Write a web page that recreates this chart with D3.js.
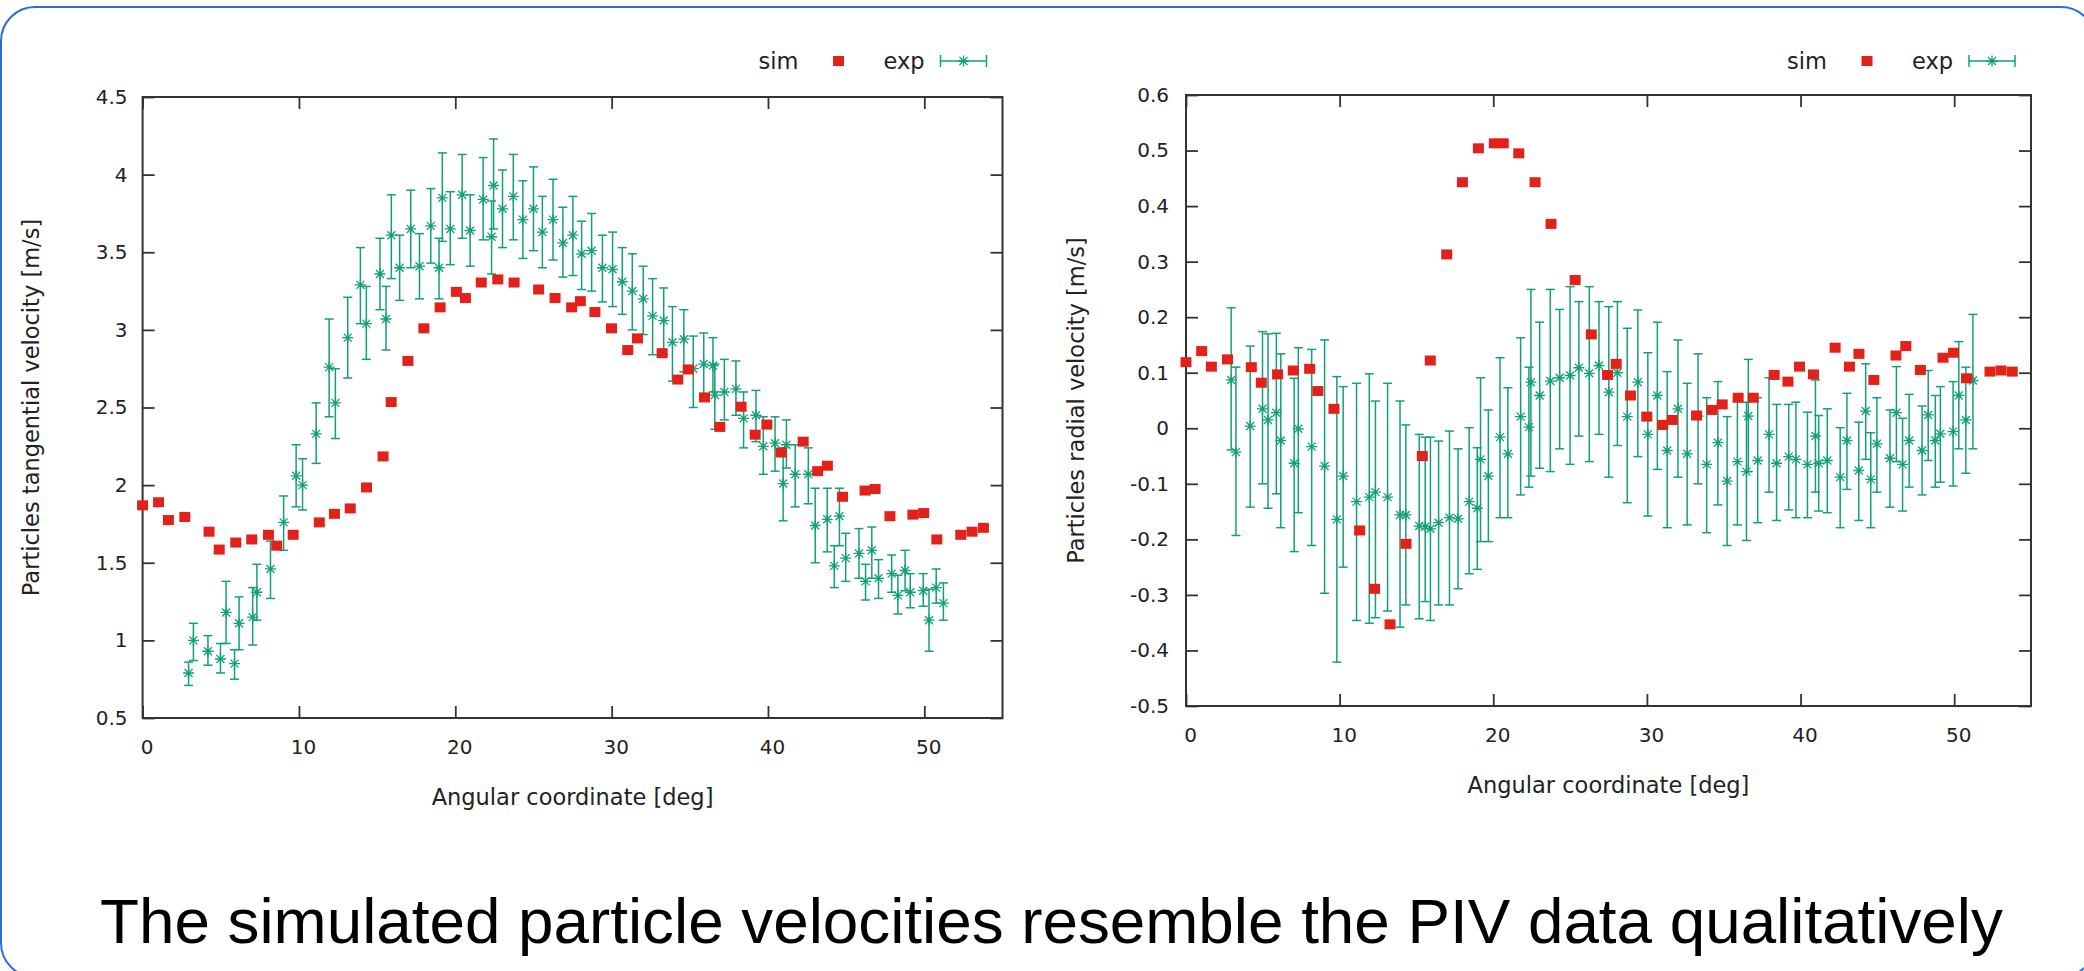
<!DOCTYPE html>
<html><head><meta charset="utf-8">
<script src="https://cdn.jsdelivr.net/npm/d3@7"></script>
<style>html,body{margin:0;padding:0;background:#fff;overflow:hidden}svg{display:block}</style>
</head><body>
<svg id="c" width="2084" height="971"></svg>
<script>
// ---------- data ----------
const xTickVals = [0, 10, 20, 30, 40, 50];
const xTickLabels = ["0", "10", "20", "30", "40", "50"];
const tangTickVals = [0.5, 1, 1.5, 2, 2.5, 3, 3.5, 4, 4.5];
const tangTickLabels = ["0.5", "1", "1.5", "2", "2.5", "3", "3.5", "4", "4.5"];
const radTickVals = [-0.5, -0.4, -0.3, -0.2, -0.1, 0, 0.1, 0.2, 0.3, 0.4, 0.5, 0.6];
const radTickLabels = ["-0.5", "-0.4", "-0.3", "-0.2", "-0.1", "0", "0.1", "0.2", "0.3", "0.4", "0.5", "0.6"];
const seriesNames = ["sim", "exp"];

// simulation sample angles (deg)
const simAngle = [0, 1.02, 1.65, 2.7, 4.25, 4.9, 5.96, 6.98, 8.05, 8.58,
  9.63, 11.3, 12.27, 13.28, 14.32, 15.38, 15.9, 16.97, 17.99, 19.03,
  20.07, 20.65, 21.66, 22.72, 23.76, 25.33, 26.38, 27.44, 28.0, 28.93,
  29.99, 31.03, 31.65, 33.23, 34.23, 34.9, 35.94, 36.92, 38.28, 39.18,
  39.93, 40.84, 42.25, 43.18, 43.8, 44.77, 46.21, 46.85, 47.8, 49.27,
  49.96, 50.8, 52.33, 53.05, 53.78];
const simTang = [1.87, 1.89, 1.775, 1.795, 1.70, 1.585, 1.63, 1.65, 1.68, 1.61,
  1.68, 1.76, 1.815, 1.85, 1.985, 2.185, 2.535, 2.80, 3.01, 3.145,
  3.245, 3.205, 3.305, 3.325, 3.305, 3.26, 3.205, 3.145, 3.185, 3.115,
  3.01, 2.87, 2.945, 2.85, 2.68, 2.745, 2.565, 2.375, 2.505, 2.325,
  2.39, 2.21, 2.28, 2.09, 2.125, 1.925, 1.965, 1.975, 1.80, 1.81,
  1.82, 1.65, 1.68, 1.70, 1.725];
const simRad = [0.119, 0.139, 0.111, 0.124, 0.110, 0.082, 0.097, 0.104, 0.107, 0.067,
  0.035, -0.184, -0.289, -0.353, -0.208, -0.050, 0.122, 0.313, 0.443, 0.504,
  0.513, 0.513, 0.495, 0.443, 0.368, 0.267, 0.169, 0.096, 0.116, 0.059,
  0.021, 0.006, 0.015, 0.023, 0.033, 0.043, 0.055, 0.055, 0.096, 0.084,
  0.111, 0.097, 0.145, 0.111, 0.134, 0.087, 0.131, 0.148, 0.105, 0.127,
  0.136, 0.090, 0.102, 0.104, 0.102];

// experiment (PIV) sample angles (deg)
const expAngle = [2.94, 3.25, 4.18, 4.98, 5.34, 5.88, 6.17, 7.04, 7.31, 8.18,
  9.02, 9.82, 10.23, 11.1, 11.93, 12.33, 13.12, 13.93, 14.31, 15.18,
  15.57, 15.91, 16.44, 17.15, 17.71, 18.43, 18.96, 19.17, 19.68, 20.44,
  20.95, 21.78, 22.32, 22.45, 23.02, 23.71, 24.32, 25.0, 25.57, 26.25,
  26.88, 27.52, 28.08, 28.72, 29.41, 30.06, 30.68, 31.32, 32.02, 32.62,
  33.33, 33.89, 34.62, 35.22, 35.89, 36.48, 36.6, 37.21, 37.95, 38.44,
  39.23, 39.7, 40.45, 40.97, 41.18, 41.74, 42.58, 43.02, 43.79, 44.24,
  44.57, 44.97, 45.82, 46.24, 46.64, 47.07, 47.91, 48.31, 48.77, 49.1,
  49.93, 50.3, 50.76, 51.22];
const expTang = [0.79, 1.00, 0.93, 0.88, 1.18, 0.85, 1.11, 1.15, 1.31, 1.46,
  1.76, 2.06, 2.00, 2.33, 2.76, 2.53, 2.95, 3.29, 3.04, 3.36,
  3.07, 3.61, 3.40, 3.65, 3.41, 3.67, 3.40, 3.85, 3.65, 3.87,
  3.64, 3.84, 3.60, 3.93, 3.78, 3.86, 3.71, 3.78, 3.63, 3.71,
  3.56, 3.61, 3.49, 3.51, 3.40, 3.39, 3.31, 3.25, 3.20, 3.09,
  3.06, 2.92, 2.94, 2.75, 2.78, 2.77, 2.58, 2.60, 2.62, 2.43,
  2.45, 2.25, 2.27, 2.01, 2.26, 2.07, 2.07, 1.74, 1.78, 1.48,
  1.80, 1.53, 1.56, 1.38, 1.58, 1.40, 1.43, 1.29, 1.45, 1.31,
  1.32, 1.13, 1.34, 1.24];
const expTangLo = [0.71, 0.87, 0.84, 0.79, 0.98, 0.75, 0.94, 0.97, 1.13, 1.27,
  1.58, 1.86, 1.84, 2.14, 2.44, 2.30, 2.69, 3.04, 2.81, 3.13,
  2.87, 3.33, 3.19, 3.40, 3.20, 3.43, 3.20, 3.57, 3.42, 3.59,
  3.41, 3.58, 3.36, 3.65, 3.53, 3.58, 3.46, 3.51, 3.40, 3.45,
  3.34, 3.35, 3.26, 3.25, 3.18, 3.15, 3.10, 3.00, 2.97, 2.84,
  2.84, 2.67, 2.73, 2.50, 2.57, 2.60, 2.36, 2.42, 2.45, 2.24,
  2.28, 2.07, 2.09, 1.77, 2.11, 1.86, 1.88, 1.50, 1.57, 1.34,
  1.61, 1.38, 1.40, 1.26, 1.40, 1.27, 1.31, 1.17, 1.32, 1.21,
  1.22, 0.93, 1.24, 1.13];
const expTangHi = [0.86, 1.11, 1.03, 0.98, 1.38, 0.94, 1.28, 1.34, 1.49, 1.64,
  1.93, 2.26, 2.17, 2.53, 3.07, 2.75, 3.21, 3.53, 3.28, 3.59,
  3.28, 3.87, 3.61, 3.90, 3.62, 3.91, 3.59, 4.14, 3.89, 4.13,
  3.87, 4.11, 3.83, 4.23, 4.03, 4.13, 3.96, 4.05, 3.86, 3.97,
  3.79, 3.86, 3.70, 3.75, 3.61, 3.63, 3.53, 3.49, 3.41, 3.33,
  3.27, 3.15, 3.13, 2.96, 2.98, 2.95, 2.78, 2.81, 2.80, 2.60,
  2.61, 2.44, 2.44, 2.24, 2.42, 2.26, 2.24, 1.98, 1.98, 1.61,
  1.98, 1.69, 1.72, 1.49, 1.73, 1.52, 1.55, 1.42, 1.58, 1.43,
  1.43, 1.33, 1.46, 1.37];
const expRad = [0.087, -0.043, 0.004, 0.035, 0.015, 0.028, -0.022, -0.063, -0.001, -0.033,
  -0.068, -0.164, -0.086, -0.132, -0.124, -0.115, -0.124, -0.156, -0.156, -0.176,
  -0.177, -0.181, -0.170, -0.161, -0.163, -0.132, -0.144, -0.056, -0.086, -0.016,
  -0.046, 0.021, 0.002, 0.083, 0.059, 0.085, 0.091, 0.095, 0.109, 0.099,
  0.113, 0.065, 0.100, 0.021, 0.083, -0.011, 0.059, -0.040, 0.035, -0.046,
  0.022, -0.065, -0.026, -0.095, -0.060, -0.078, 0.022, -0.058, -0.011, -0.063,
  -0.051, -0.056, -0.065, -0.014, -0.063, -0.058, -0.088, -0.022, -0.076, 0.031,
  -0.092, -0.028, -0.054, 0.028, -0.065, -0.022, -0.040, 0.024, -0.022, -0.010,
  -0.006, 0.059, 0.015, 0.086];
const expRadLo = [-0.039, -0.193, -0.142, -0.100, -0.144, -0.118, -0.179, -0.222, -0.152, -0.211,
  -0.297, -0.421, -0.250, -0.346, -0.351, -0.341, -0.329, -0.358, -0.318, -0.343,
  -0.312, -0.346, -0.318, -0.318, -0.289, -0.262, -0.254, -0.204, -0.204, -0.161,
  -0.161, -0.120, -0.106, -0.086, -0.072, -0.078, -0.037, -0.065, -0.014, -0.060,
  -0.011, -0.088, -0.031, -0.134, -0.051, -0.158, -0.074, -0.179, -0.088, -0.174,
  -0.100, -0.188, -0.138, -0.211, -0.174, -0.202, -0.078, -0.170, -0.115, -0.166,
  -0.147, -0.161, -0.161, -0.115, -0.149, -0.152, -0.179, -0.110, -0.166, -0.056,
  -0.179, -0.115, -0.142, -0.060, -0.149, -0.106, -0.120, -0.058, -0.106, -0.097,
  -0.104, -0.037, -0.081, -0.037];
const expRadHi = [0.217, 0.110, 0.148, 0.174, 0.170, 0.171, 0.134, 0.090, 0.145, 0.142,
  0.159, 0.093, 0.075, 0.081, 0.098, 0.049, 0.081, 0.049, 0.006, -0.011,
  -0.016, -0.016, -0.023, -0.005, -0.037, 0.001, -0.035, 0.091, 0.033, 0.127,
  0.073, 0.163, 0.110, 0.250, 0.191, 0.250, 0.214, 0.255, 0.228, 0.255,
  0.228, 0.219, 0.228, 0.180, 0.213, 0.136, 0.191, 0.102, 0.159, 0.081,
  0.134, 0.055, 0.084, 0.021, 0.056, 0.047, 0.124, 0.055, 0.091, 0.043,
  0.043, 0.047, 0.029, 0.087, 0.023, 0.035, 0.001, 0.063, 0.011, 0.116,
  -0.008, 0.055, 0.033, 0.111, 0.018, 0.061, 0.040, 0.104, 0.059, 0.075,
  0.084, 0.156, 0.110, 0.205];

const captionText = "The simulated particle velocities resemble the PIV data qualitatively";

// ---------- styles ----------
const RED = "#e3211b", GREEN = "#12a077", AXIS = "#333", TXT = "#222";
const CHART_FONT = "'DejaVu Sans', sans-serif";

const svg = d3.select("#c");
svg.append("rect").attr("width", 2084).attr("height", 971).attr("fill", "#fff");
svg.append("rect").attr("x", 1).attr("y", 7).attr("width", 2094).attr("height", 970)
  .attr("rx", 34).attr("ry", 34).attr("fill", "none").attr("stroke", "#2f6bd6").attr("stroke-width", 2);

const starPath = "M-5.5,0H5.5M0,-5.5V5.5M-4,-4L4,4M-4,4L4,-4";

function drawPanel(cfg) {
  const x = d3.scaleLinear().domain([0, 55]).range([cfg.x0, cfg.x1]);
  const y = d3.scaleLinear().domain(cfg.yDomain).range([cfg.y0, cfg.y1]);
  const g = svg.append("g");

  const styleAxis = sel => {
    sel.select(".domain").remove();
    sel.selectAll(".tick line").attr("stroke", AXIS).attr("stroke-width", 1.8);
    sel.selectAll(".tick text").attr("fill", TXT).style("font-family", CHART_FONT).style("font-size", "20px");
  };
  g.append("g").attr("transform", `translate(0,${cfg.y0})`)
    .call(d3.axisBottom(x).tickValues(xTickVals).tickFormat((d, i) => xTickLabels[i]).tickSizeInner(-12).tickSizeOuter(0).tickPadding(22))
    .call(styleAxis).call(s => s.selectAll(".tick text").attr("dx", 4));
  g.append("g").attr("transform", `translate(0,${cfg.y1})`)
    .call(d3.axisTop(x).tickValues(xTickVals).tickFormat("").tickSizeInner(-12).tickSizeOuter(0))
    .call(styleAxis);
  g.append("g").attr("transform", `translate(${cfg.x0},0)`)
    .call(d3.axisLeft(y).tickValues(cfg.tickVals).tickFormat((d, i) => cfg.tickLabels[i]).tickSizeInner(-12).tickSizeOuter(0).tickPadding(cfg.yPad))
    .call(styleAxis);
  g.append("g").attr("transform", `translate(${cfg.x1},0)`)
    .call(d3.axisRight(y).tickValues(cfg.tickVals).tickFormat("").tickSizeInner(-12).tickSizeOuter(0))
    .call(styleAxis);

  g.append("rect").attr("x", cfg.x0).attr("y", cfg.y1)
    .attr("width", cfg.x1 - cfg.x0).attr("height", cfg.y0 - cfg.y1)
    .attr("fill", "none").attr("stroke", AXIS).attr("stroke-width", 2);

  g.append("text").attr("x", (cfg.x0 + cfg.x1) / 2).attr("y", cfg.xLabelY)
    .attr("text-anchor", "middle").attr("dominant-baseline", "central")
    .style("font-family", CHART_FONT).style("font-size", "22.5px").attr("fill", TXT)
    .text("Angular coordinate [deg]");
  g.append("text").attr("transform", `translate(${cfg.yLabelX},${(cfg.y0 + cfg.y1) / 2}) rotate(-90)`)
    .attr("text-anchor", "middle").attr("dominant-baseline", "central")
    .style("font-family", CHART_FONT).style("font-size", "22.5px").attr("fill", TXT)
    .text(cfg.yLabel);

  const eg = g.append("g").attr("stroke", GREEN).attr("fill", "none").attr("stroke-width", 1.5);
  const cap = 4.5;
  expAngle.forEach((a, i) => {
    const cx = x(a), ylo = y(cfg.expLo[i]), yhi = y(cfg.expHi[i]);
    eg.append("line").attr("x1", cx).attr("x2", cx).attr("y1", ylo).attr("y2", yhi);
    eg.append("line").attr("x1", cx - cap).attr("x2", cx + cap).attr("y1", ylo).attr("y2", ylo);
    eg.append("line").attr("x1", cx - cap).attr("x2", cx + cap).attr("y1", yhi).attr("y2", yhi);
    eg.append("path").attr("d", starPath).attr("transform", `translate(${cx},${y(cfg.expVal[i])})`).attr("stroke-width", 1.3);
  });

  g.append("g").selectAll("rect").data(simAngle).join("rect")
    .attr("x", d => x(d) - 5.5).attr("y", (d, i) => y(cfg.simVal[i]) - 5)
    .attr("width", 11).attr("height", 10).attr("fill", RED);

  const ly = 61;
  const lg = g.append("g").style("font-family", CHART_FONT).style("font-size", "22.5px").attr("fill", TXT);
  lg.append("text").attr("x", cfg.x1 - 204).attr("y", ly).attr("text-anchor", "end").attr("dominant-baseline", "central").text(seriesNames[0]);
  lg.append("rect").attr("x", cfg.x1 - 164 - 5.5).attr("y", ly - 5).attr("width", 11).attr("height", 10).attr("fill", RED);
  lg.append("text").attr("x", cfg.x1 - 78).attr("y", ly).attr("text-anchor", "end").attr("dominant-baseline", "central").text(seriesNames[1]);
  const sx0 = cfg.x1 - 62, sx1 = cfg.x1 - 16;
  const sg = lg.append("g").attr("stroke", GREEN).attr("stroke-width", 1.5).attr("fill", "none");
  sg.append("line").attr("x1", sx0).attr("x2", sx1).attr("y1", ly).attr("y2", ly);
  sg.append("line").attr("x1", sx0).attr("x2", sx0).attr("y1", ly - 6).attr("y2", ly + 6);
  sg.append("line").attr("x1", sx1).attr("x2", sx1).attr("y1", ly - 6).attr("y2", ly + 6);
  sg.append("path").attr("d", starPath).attr("transform", `translate(${(sx0 + sx1) / 2},${ly})`).attr("stroke-width", 1.3);
}

drawPanel({
  x0: 142.6, x1: 1002.5, y0: 718, y1: 97,
  yDomain: [0.5, 4.5], tickVals: tangTickVals, tickLabels: tangTickLabels, yPad: 15,
  yLabel: "Particles tangential velocity [m/s]", yLabelX: 31, xLabelY: 797,
  simVal: simTang, expVal: expTang, expLo: expTangLo, expHi: expTangHi
});
drawPanel({
  x0: 1186, x1: 2031, y0: 706, y1: 95,
  yDomain: [-0.5, 0.6], tickVals: radTickVals, tickLabels: radTickLabels, yPad: 17,
  yLabel: "Particles radial velocity [m/s]", yLabelX: 1076, xLabelY: 785,
  simVal: simRad, expVal: expRad, expLo: expRadLo, expHi: expRadHi
});

const cap = svg.append("text").attr("x", 100).attr("y", 943)
  .style("font-family", "'Liberation Sans', Arial, sans-serif").style("font-size", "64px")
  .attr("fill", "#000").text(captionText);
const w = cap.node().getComputedTextLength();
cap.style("font-size", (64 * 1903 / w) + "px");
</script>
</body></html>
